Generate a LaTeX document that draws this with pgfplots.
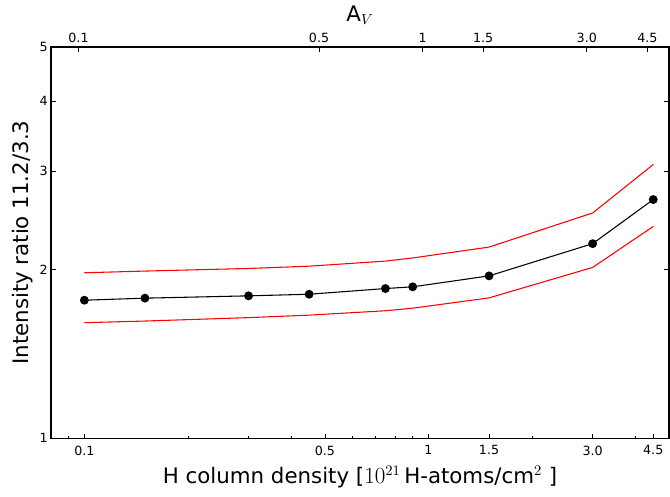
\documentclass[border=0pt]{standalone}
\usepackage{pgfplots}
\pgfplotsset{compat=1.18}
\usepackage{fontspec}
\setmainfont{DejaVu Sans}

\begin{document}
\begin{tikzpicture}
\begin{axis}[name=main,
  scale only axis, width=463.5pt, height=293.5pt,
  xmode=log, ymode=log,
  xmin=0.08, xmax=5, ymin=1, ymax=5,
  tick align=inside,
  major tick length=3.5pt, minor tick length=2pt,
  tick style={black, line width=0.5pt},
  ticklabel style={font=\fontsize{9.5}{11}\selectfont},
  label style={font=\fontsize{16}{18}\selectfont},
  /pgf/number format/assume math mode=true,
  axis line style={line width=1pt},
  xtick={0.1,0.5,1,1.5,3,4.5},
  xticklabels={0.1,0.5,1,1.5,3.0,4.5},
  minor xtick={0.09,0.2,0.3,0.4,0.6,0.7,0.8,0.9,2,4},
  xtick pos=bottom,
  ytick={1,2,3,4,5}, yticklabels={1,2,3,4,5},
  minor ytick={},
  ytick pos=both,
  yticklabel style={xshift=1pt},
  xticklabel style={yshift=-2pt},
  xlabel={H column density [$10^{21}$\,H-atoms/cm$^2$ ]},
  ylabel={Intensity ratio 11.2/3.3},
  xlabel style={yshift=-1pt},
  ylabel style={yshift=-2pt},
]
\addplot[red, line width=0.8pt] coordinates {
  (0.1,1.976) (0.15,1.99) (0.3,2.011) (0.45,2.03) (0.75,2.073)
  (0.9,2.10) (1.5,2.196) (3.0,2.527) (4.5,3.085)};
\addplot[red, line width=0.8pt] coordinates {
  (0.1,1.609) (0.15,1.62) (0.3,1.643) (0.45,1.660) (0.75,1.69)
  (0.9,1.708) (1.5,1.782) (3.0,2.02) (4.5,2.391)};
\addplot[black, line width=0.8pt, mark=*, mark size=2.9pt] coordinates {
  (0.1,1.765) (0.15,1.780) (0.3,1.797) (0.45,1.809) (0.75,1.852)
  (0.9,1.865) (1.5,1.951) (3.0,2.227) (4.5,2.670)};
\end{axis}
\begin{axis}[
  scale only axis, width=463.5pt, height=293.5pt,
  xmode=log, ymode=log,
  xmin=0.0832, xmax=5.2, ymin=1, ymax=5,
  tick align=inside,
  major tick length=3.5pt,
  tick style={black, line width=0.5pt},
  ticklabel style={font=\fontsize{9.5}{11}\selectfont},
  label style={font=\fontsize{16}{18}\selectfont},
  /pgf/number format/assume math mode=true,
  axis line style={line width=1pt},
  axis x line*=top, axis y line=none,
  xtick={0.1,0.5,1,1.5,3,4.5},
  xticklabels={0.1,0.5,1,1.5,3.0,4.5},
  minor xtick={},
  xlabel={A$_V$},
  xlabel style={yshift=-1pt},
]
\end{axis}
\path (main.south west) ++(-38.25pt,-43.5pt) coordinate (bl);
\path (main.north east) ++(0.75pt,35.25pt) coordinate (tr);
\path[use as bounding box] (bl) rectangle (tr);
\end{tikzpicture}
\end{document}
